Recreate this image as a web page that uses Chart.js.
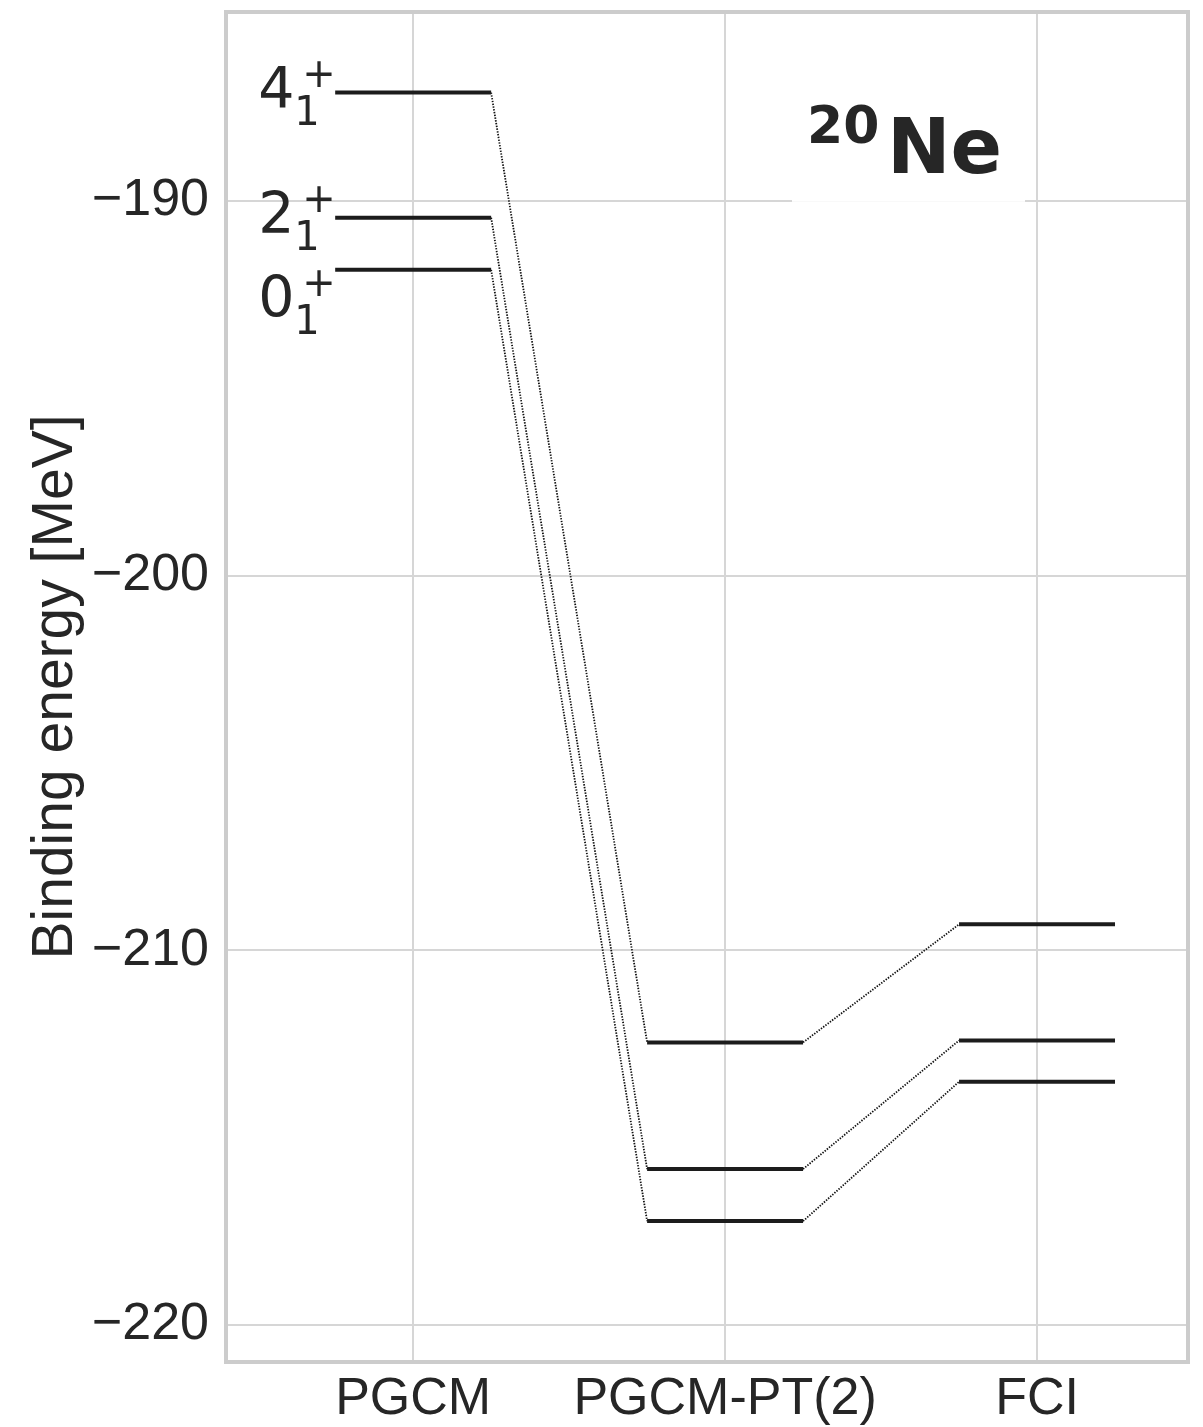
<!DOCTYPE html>
<html>
<head>
<meta charset="utf-8">
<script src="https://cdn.jsdelivr.net/npm/chart.js@4.4.1/dist/chart.umd.min.js"></script>
<style>
html,body{margin:0;padding:0;background:#fff;}
#wrap{width:1203px;height:1427px;position:relative;}
</style>
</head>
<body>
<div id="wrap"><canvas id="c" width="1203" height="1427"></canvas></div>
<script>
// ---- data ----
const methods = ['PGCM', 'PGCM-PT(2)', 'FCI'];
const states = ['0', '2', '4'];
const e0 = [-191.84, -217.23, -213.51];
const e2 = [-190.45, -215.84, -212.41];
const e4 = [-187.11, -212.46, -209.31];
const yTicks = [-220, -210, -200, -190];
const xTicks = [0, 1, 2];
const nucleusMass = '20';
const nucleusName = 'Ne';
const yTitle = 'Binding energy [MeV]';

const energies = [e0, e2, e4];
const HALF = 0.25;
const datasets = [];
energies.forEach((arr, s) => {
  arr.forEach((e, m) => {
    datasets.push({
      data: [{x: m - HALF, y: e}, {x: m + HALF, y: e}],
      borderColor: '#1c1c1c', borderWidth: 4, pointRadius: 0, borderCapStyle: 'butt'
    });
    if (m < arr.length - 1) {
      datasets.push({
        data: [{x: m + HALF, y: e}, {x: m + 1 - HALF, y: arr[m + 1]}],
        borderColor: '#111111', borderWidth: 1.8, borderDash: [1.4, 1.4], pointRadius: 0
      });
    }
  });
});

const minus = v => (v < 0 ? '\u2212' + Math.abs(v) : String(v));

const overlay = {
  id: 'overlay',
  afterDatasetsDraw(chart) {
    const ctx = chart.ctx, xs = chart.scales.x, ys = chart.scales.y, ca = chart.chartArea;
    ctx.save();
    const nudge = [32, 0, 0];
    energies.forEach((arr, s) => {
      const bx = xs.getPixelForValue(0 - HALF);
      const base = ys.getPixelForValue(arr[0]) + 15 + nudge[s];
      ctx.fillStyle = '#262626';
      ctx.textBaseline = 'alphabetic';
      ctx.textAlign = 'left';
      ctx.font = '57px "DejaVu Sans"';
      ctx.fillText(states[s], bx - 77, base);
      ctx.font = '40px "DejaVu Sans"';
      ctx.fillText('1', bx - 41, base + 17);
      ctx.fillText('+', bx - 33, base - 21);
    });
    const tx = ca.left + 566, tyb = ys.getPixelForValue(-190);
    ctx.fillStyle = '#ffffff';
    ctx.fillRect(tx, ca.top + 50, 233, tyb - ca.top - 49);
    ctx.fillStyle = '#262626';
    ctx.font = 'bold 52px "DejaVu Sans"';
    ctx.fillText(nucleusMass, tx + 15, ca.top + 131);
    ctx.font = 'bold 76px "DejaVu Sans"';
    ctx.fillText(nucleusName, tx + 95, ca.top + 161);
    ctx.restore();
  },
  afterDraw(chart) {
    const ctx = chart.ctx, ca = chart.chartArea;
    ctx.save();
    ctx.strokeStyle = '#cccccc';
    ctx.lineWidth = 4;
    ctx.strokeRect(ca.left, ca.top, ca.right - ca.left, ca.bottom - ca.top);
    ctx.restore();
  }
};

new Chart(document.getElementById('c'), {
  type: 'line',
  data: {datasets},
  options: {
    responsive: false,
    devicePixelRatio: 1,
    animation: false,
    parsing: false,
    layout: {padding: {top: 12, right: 15, left: 0, bottom: 0}},
    plugins: {legend: {display: false}, tooltip: {enabled: false}},
    scales: {
      x: {
        type: 'linear', min: -0.6, max: 2.484,
        afterBuildTicks: sc => { sc.ticks = xTicks.map(v => ({value: v})); },
        afterFit: sc => { sc.height = 65; sc.paddingLeft = 0; sc.paddingRight = 0; },
        ticks: {callback: v => methods[v], color: '#262626', font: {family: '"Liberation Sans", Arial', size: 52}, padding: 6, maxRotation: 0, autoSkip: false},
        grid: {color: '#d6d6d6', lineWidth: 2, drawTicks: false},
        border: {display: false}
      },
      y: {
        type: 'linear', min: -220.99, max: -184.96,
        afterBuildTicks: sc => { sc.ticks = yTicks.map(v => ({value: v})); },
        afterFit: sc => { sc.width = 226; sc.paddingTop = 0; sc.paddingBottom = 0; },
        ticks: {callback: v => minus(v), color: '#262626', font: {family: '"Liberation Sans", Arial', size: 52}, padding: 17},
        grid: {color: '#d6d6d6', lineWidth: 2, drawTicks: false},
        border: {display: false},
        title: {display: true, text: yTitle, color: '#262626', font: {family: '"Liberation Sans", Arial', size: 57}, padding: {top: 22, bottom: 0}}
      }
    }
  },
  plugins: [overlay]
});
</script>
</body>
</html>
